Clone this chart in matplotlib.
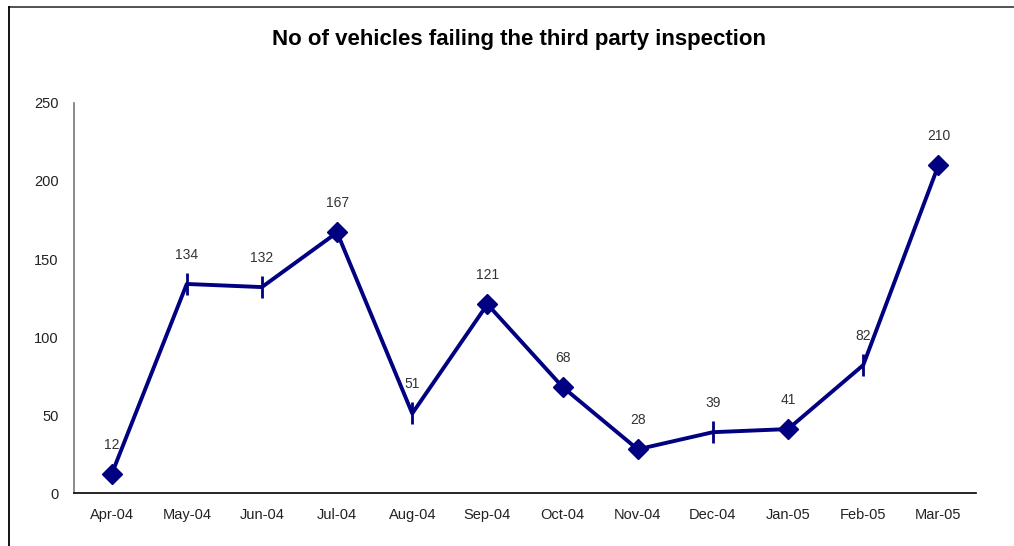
import numpy as np
import matplotlib.pyplot as plt
from matplotlib.lines import Line2D

# data
months = ['Apr-04', 'May-04', 'Jun-04', 'Jul-04', 'Aug-04', 'Sep-04',
          'Oct-04', 'Nov-04', 'Dec-04', 'Jan-05', 'Feb-05', 'Mar-05']
failed = [12, 134, 132, 167, 51, 121, 68, 28, 39, 41, 82, 210]
diamond_pts = [0, 3, 5, 6, 7, 9, 11]
tick_pts = [1, 2, 4, 8, 10]

plt.rcParams['font.family'] = ['Liberation Sans', 'DejaVu Sans']
navy = '#000080'

fig = plt.figure(figsize=(10.14, 5.46), dpi=100)
ax = fig.add_axes([0.073, 0.097, 0.8895, 0.7144])

x = np.arange(len(months))
y = np.array(failed)
ax.plot(x, y, color=navy, linewidth=2.8, zorder=2)
ax.plot(x[diamond_pts], y[diamond_pts], linestyle='none', marker='D',
        markersize=10.5, color=navy, zorder=3)
ax.plot(x[tick_pts], y[tick_pts], linestyle='none', marker='|',
        markersize=16, markeredgewidth=2, color=navy, zorder=3)

for xi, yi in zip(x, y):
    ax.annotate(str(yi), (xi, yi), xytext=(0, 21), textcoords='offset points',
                ha='center', va='center', fontsize=10, color='#333333')

ax.set_xlim(-0.5, len(months) - 0.5)
ax.set_ylim(0, 250)
ax.set_yticks([0, 50, 100, 150, 200, 250])
ax.set_xticks(x)
ax.set_xticklabels(months)
ax.tick_params(axis='both', length=0, labelsize=10.5, colors='#222222')
ax.tick_params(axis='y', pad=11)
ax.tick_params(axis='x', pad=11)
for s in ['top', 'right']:
    ax.spines[s].set_visible(False)
ax.spines['left'].set_color('#777777')
ax.spines['left'].set_linewidth(1.2)
ax.spines['bottom'].set_color('black')
ax.spines['bottom'].set_linewidth(1.2)

fig.text(0.512, 0.927, 'No of vehicles failing the third party inspection',
         ha='center', va='center', fontsize=16, fontweight='bold')

# outer frame (top and left edges)
fig.add_artist(Line2D([0.0089, 1.0], [0.987, 0.987], color='#444444',
                      linewidth=1.3, transform=fig.transFigure))
fig.add_artist(Line2D([0.0089, 0.0089], [0.0, 0.987], color='black',
                      linewidth=1.3, transform=fig.transFigure))

fig.savefig('out.png', dpi=100)
